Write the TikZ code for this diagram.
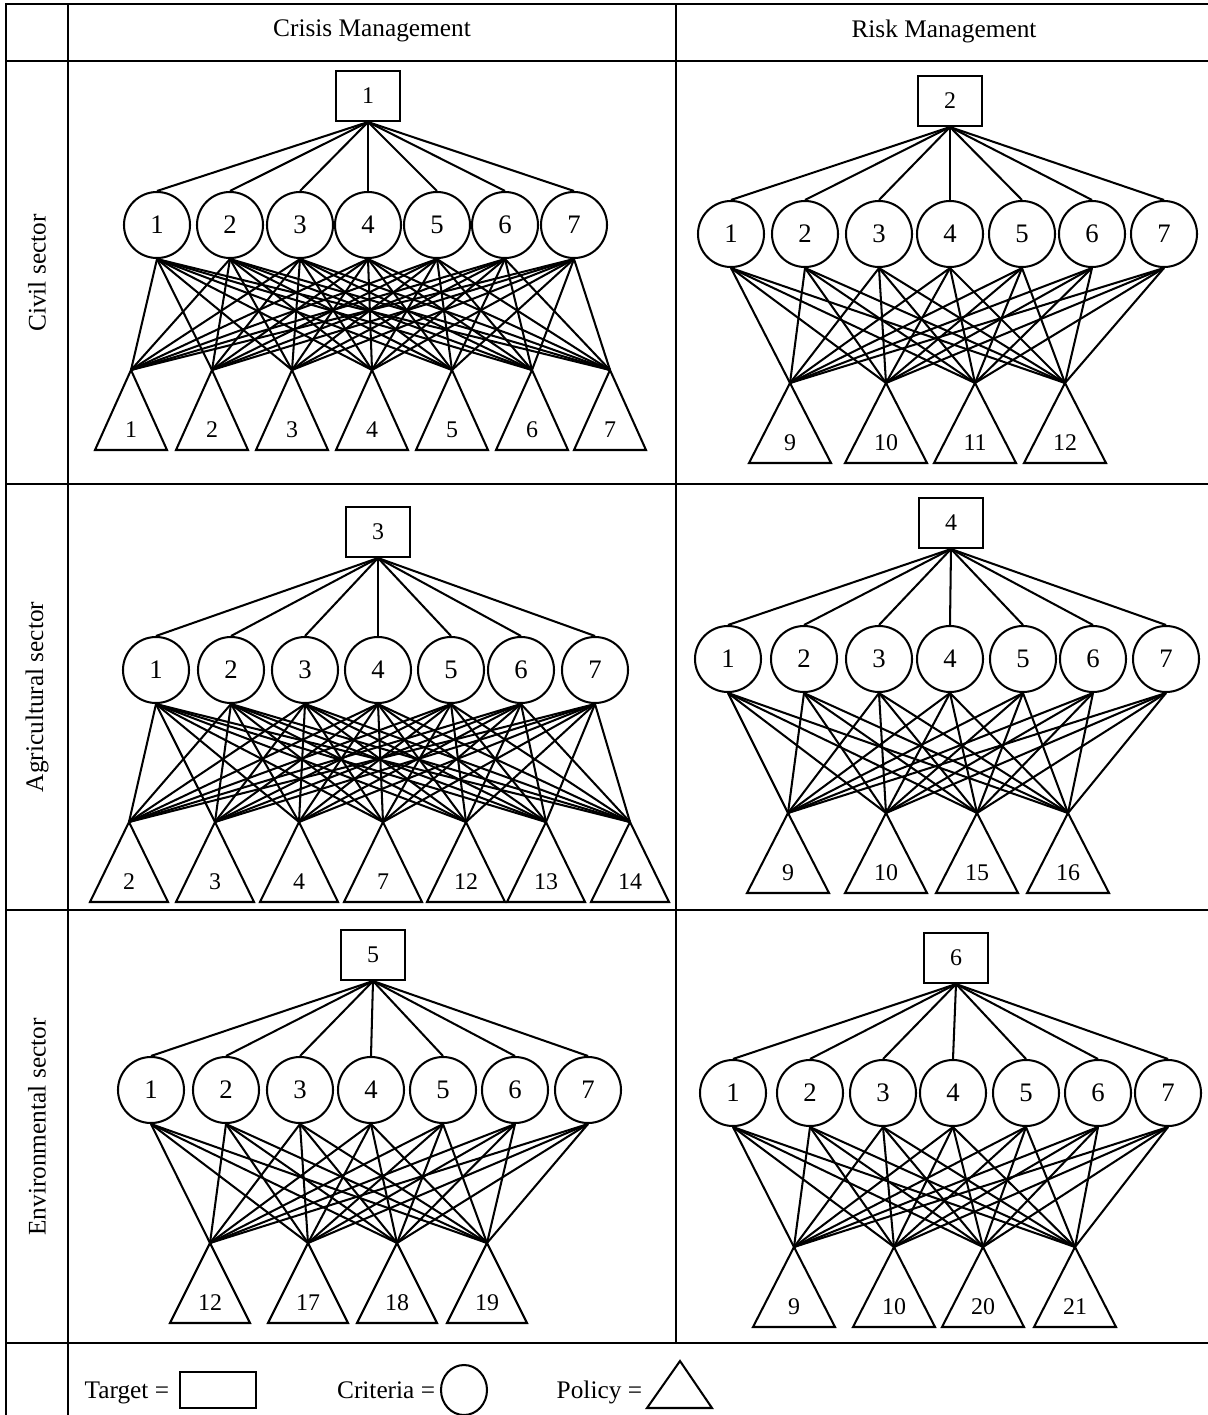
\documentclass[tikz,border=0pt]{standalone}
\usepackage{fontspec}
\setmainfont{Liberation Serif}
\usetikzlibrary{shapes.geometric}

% one hierarchy: prefix, target pos, target label, criteria y, criteria xs,
% policy apex y, policy half width, policies x/label
\newcommand{\ahpTree}[8]{%
  \node[target] (#1t) at #2 {#3};
  \foreach \cx [count=\i] in {#5} {
    \node[crit] (#1c\i) at (\cx,#4) {\i};
    \draw[link] (#1t.south) -- (#1c\i.north);
  }
  \foreach \px/\pl [count=\j] in {#8} {
    \coordinate (#1p\j) at (\px,#6);
    \draw[link] (#1p\j) -- ++(-#7,80) -- ++(2*#7,0) -- cycle;
    \node[pol] (#1l\j) at (\px,#6+60) {\pl};
    \foreach \k in {1,...,7}
      \draw[link] (#1c\k.south) -- (#1p\j);
  }
}

\begin{document}
\begin{tikzpicture}[
 x=0.025cm, y=-0.025cm,
 grid/.style={line width=1.6pt},
 link/.style={line width=1.45pt},
 target/.style={draw, line width=1.45pt, minimum width=1.6cm, minimum height=1.25cm,
   inner sep=0pt, font=\fontsize{17}{19}\selectfont},
 crit/.style={draw, circle, line width=1.45pt, minimum size=1.65cm, inner sep=0pt,
   font=\fontsize{19}{21}\selectfont},
 pol/.style={font=\fontsize{17}{19}\selectfont},
 head/.style={font=\fontsize{18}{20}\selectfont}
]
\useasboundingbox (0,0) rectangle (1208,1415);

% Table
\draw[grid] (1208,4) -- (6,4) -- (6,1415);
\draw[grid] (68,4) -- (68,1415);
\draw[grid] (676,4) -- (676,1343);
\foreach \ry in {61,484,910,1343}
  \draw[grid] (6,\ry) -- (1208,\ry);

% Headers
\node[head] (hCM) at (372,31) {Crisis Management};
\node[head] (hRM) at (944,31) {Risk Management};
\node[head, rotate=90] (rCiv) at (37,273) {Civil sector};
\node[head, rotate=90] (rAgr) at (37,697) {Agricultural sector};
\node[head, rotate=90] (rEnv) at (37,1127) {Environmental sector};

% Civil sector
\ahpTree{a}{(368,96)}{1}{225}{157,230,300,368,437,505,574}{370}{36}%
  {131/1,212/2,292/3,372/4,452/5,532/6,610/7}
\ahpTree{b}{(950,101)}{2}{234}{731,805,879,950,1022,1092,1164}{383}{41}%
  {790/9,886/10,975/11,1065/12}

% Agricultural sector
\ahpTree{c}{(378,532)}{3}{670}{156,231,305,378,451,521,595}{822}{39}%
  {129/2,215/3,299/4,383/7,466/12,546/13,630/14}
\ahpTree{d}{(951,523)}{4}{659}{728,804,879,950,1023,1093,1166}{813}{41}%
  {788/9,886/10,977/15,1068/16}

% Environmental sector
\ahpTree{e}{(373,955)}{5}{1090}{151,226,300,371,443,515,588}{1243}{40}%
  {210/12,308/17,397/18,487/19}
\ahpTree{f}{(956,958)}{6}{1093}{733,810,883,953,1026,1098,1168}{1247}{41}%
  {794/9,894/10,983/20,1075/21}

% Legend
\node[head, anchor=base east] (kT) at (174,1398) {Target =};
\node[draw, line width=1.45pt, minimum width=1.9cm, minimum height=0.88cm] (kTbox) at (218,1390) {};
\node[head, anchor=base east] (kC) at (440,1398) {Criteria =};
\node[draw, ellipse, line width=1.45pt, minimum width=1.15cm, minimum height=1.25cm] (kCell) at (464,1390) {};
\node[head, anchor=base east] (kP) at (647,1398) {Policy =};
\coordinate (kPtop) at (680,1361);
\draw[link] (kPtop) -- (712,1408) -- (647,1408) -- cycle;
\end{tikzpicture}
\end{document}
